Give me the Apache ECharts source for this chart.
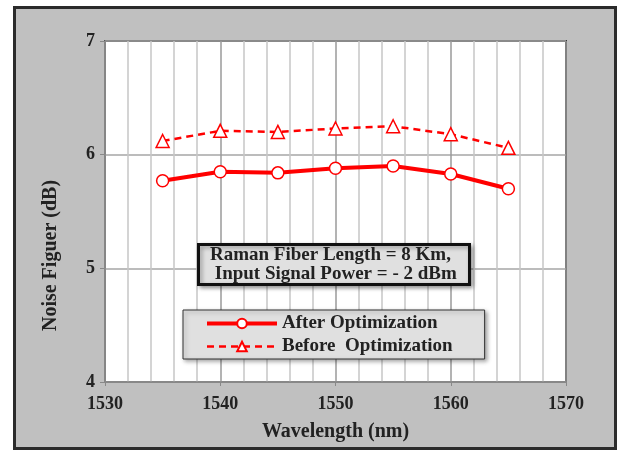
<!DOCTYPE html>
<html>
<head>
<meta charset="utf-8">
<script src="https://cdn.jsdelivr.net/npm/echarts@6/dist/echarts.min.js"></script>
<style>
  html, body { margin: 0; padding: 0; background: #fff; }
  #main { width: 621px; height: 452px; }
</style>
</head>
<body>
<div id="main"></div>
<script>
// wavelength (nm)
var wavelengths = [1535, 1540, 1545, 1550, 1555, 1560, 1565];
// noise figure (dB)
var afterOpt = [5.77, 5.85, 5.84, 5.88, 5.90, 5.83, 5.70];
var beforeOpt = [6.12, 6.21, 6.20, 6.23, 6.25, 6.18, 6.06];

var seriesNames = ['After Optimization', 'Before  Optimization'];
var noteLines = ['Raman Fiber Length = 8 Km,', ' Input Signal Power = - 2 dBm'];

function pairs(xs, ys) {
  return xs.map(function (x, i) { return [x, ys[i]]; });
}

var serif = '"Liberation Serif", "Times New Roman", serif';
var chart = echarts.init(document.getElementById('main'));

var option = {
  backgroundColor: '#ffffff',
  animation: false,
  graphic: [{
    type: 'rect',
    z: -10,
    shape: { x: 14.5, y: 7.5, width: 601, height: 441 },
    style: { fill: '#c0c0c0', stroke: '#2b2b2b', lineWidth: 3 }
  }],
  title: {
    text: noteLines.join('\n'),
    left: 198,
    top: 244,
    padding: [2, 13, 1, 12],
    backgroundColor: '#e0e0e0',
    borderColor: '#111',
    borderWidth: 3,
    shadowColor: 'rgba(0,0,0,0.35)',
    shadowBlur: 4,
    shadowOffsetX: 2,
    shadowOffsetY: 2,
    textStyle: {
      fontFamily: serif,
      fontWeight: 'bold',
      fontSize: 19,
      lineHeight: 19,
      color: '#222'
    }
  },
  legend: {
    orient: 'vertical',
    left: 183,
    top: 310,
    itemWidth: 70,
    itemHeight: 12,
    itemGap: 4,
    padding: [4, 32, 3, 22],
    backgroundColor: '#e0e0e0',
    borderColor: '#333',
    borderWidth: 1,
    shadowColor: 'rgba(0,0,0,0.35)',
    shadowBlur: 4,
    shadowOffsetX: 2,
    shadowOffsetY: 2,
    data: [
      { name: seriesNames[0], lineStyle: { width: 4 } },
      { name: seriesNames[1], lineStyle: { width: 2.5 } }
    ],
    textStyle: {
      fontFamily: serif,
      fontWeight: 'bold',
      fontSize: 19,
      color: '#222'
    }
  },
  grid: {
    left: 105,
    right: 55,
    top: 41,
    bottom: 70,
    show: true,
    backgroundColor: '#ffffff',
    borderColor: '#3a3a3a',
    borderWidth: 2
  },
  xAxis: {
    type: 'value',
    min: 1530,
    max: 1570,
    interval: 10,
    name: 'Wavelength (nm)',
    nameLocation: 'middle',
    nameGap: 40,
    nameTextStyle: {
      fontFamily: serif,
      fontWeight: 'bold',
      fontSize: 20,
      color: '#222'
    },
    axisLine: { lineStyle: { color: '#888', width: 1.5 } },
    axisTick: { show: true, length: 4, lineStyle: { color: '#888' } },
    minorTick: { show: false, splitNumber: 5 },
    axisLabel: {
      fontFamily: serif,
      fontWeight: 'bold',
      fontSize: 18,
      color: '#222',
      margin: 13,
      formatter: function (v) { return String(v); }
    },
    splitLine: { show: true, lineStyle: { color: '#9a9a9a', width: 1.5 } },
    minorSplitLine: { show: true, lineStyle: { color: '#c6c6c6', width: 1.5 } }
  },
  yAxis: {
    type: 'value',
    min: 4,
    max: 7,
    interval: 1,
    name: 'Noise Figuer (dB)',
    nameLocation: 'middle',
    nameGap: 44,
    nameTextStyle: {
      fontFamily: serif,
      fontWeight: 'bold',
      fontSize: 20,
      color: '#222',
      padding: [0, 88, 0, 0]
    },
    axisLine: { show: true, lineStyle: { color: '#888', width: 1.5 } },
    axisTick: { show: true, length: 5, lineStyle: { color: '#888' } },
    axisLabel: {
      fontFamily: serif,
      fontWeight: 'bold',
      fontSize: 18,
      color: '#222',
      margin: 10
    },
    splitLine: { show: true, lineStyle: { color: '#a6a6a6', width: 1.5 } }
  },
  series: [{
    name: seriesNames[0],
    type: 'line',
    data: pairs(wavelengths, afterOpt),
    symbol: 'circle',
    symbolSize: 12,
    lineStyle: { color: '#ff0000', width: 4 },
    itemStyle: { color: '#ffffff', borderColor: '#ff0000', borderWidth: 1.5 },
    z: 3
  }, {
    name: seriesNames[1],
    type: 'line',
    data: pairs(wavelengths, beforeOpt),
    symbol: 'triangle',
    symbolSize: 13,
    lineStyle: { color: '#ff0000', width: 2.5, type: [7, 5] },
    itemStyle: { color: '#ffffff', borderColor: '#ff0000', borderWidth: 1.5 },
    z: 2
  }]
};

chart.setOption(option);
</script>
</body>
</html>
